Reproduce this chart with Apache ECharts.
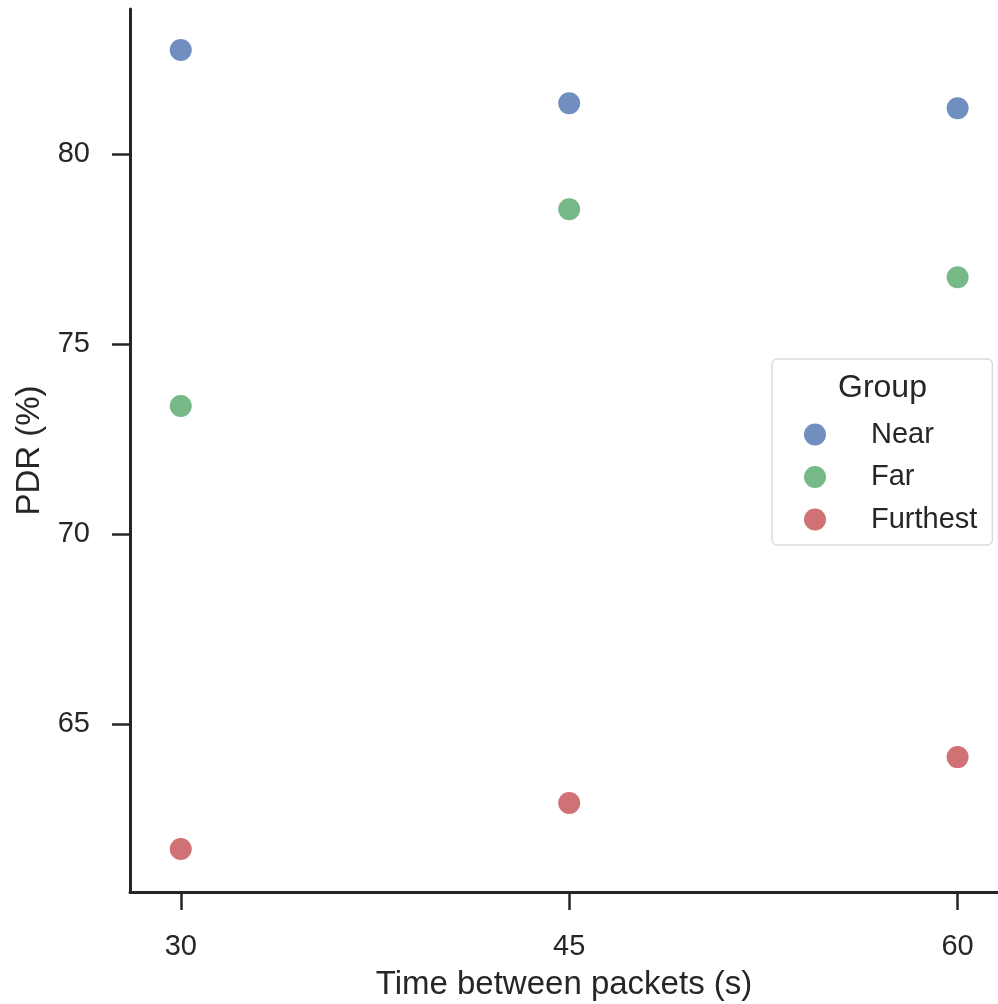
<!DOCTYPE html>
<html>
<head>
<meta charset="utf-8">
<script src="https://cdn.jsdelivr.net/npm/echarts@6/dist/echarts.min.js"></script>
<style>
  html, body { margin: 0; padding: 0; background: #fff; }
  #container { width: 998px; height: 1004px; }
</style>
</head>
<body>
<div id="container"></div>
<script>
// values
var xTicks = [30, 45, 60];
var yTicks = [65, 70, 75, 80];
var groups = ['Near', 'Far', 'Furthest'];
// seaborn deep palette at alpha 0.8 over white
var colors = ['rgb(112,142,192)', 'rgb(119,185,134)', 'rgb(208,113,117)'];

var nearPdr = [82.74, 81.34, 81.21];
var farPdr = [73.37, 78.55, 76.76];
var furthestPdr = [61.71, 62.92, 64.13];
var allPdr = [nearPdr, farPdr, furthestPdr];

var dom = document.getElementById('container');
var myChart = echarts.init(dom);

var textColor = '#262626';
var font = "'Liberation Sans', Arial, sans-serif";

var series = [];
for (var g = 0; g < groups.length; g++) {
  var pts = [];
  for (var i = 0; i < xTicks.length; i++) {
    pts.push([xTicks[i], allPdr[g][i]]);
  }
  series.push({
    name: groups[g],
    type: 'scatter',
    symbol: 'circle',
    symbolSize: 22,
    itemStyle: { color: colors[g], opacity: 1 },
    data: pts
  });
}

var option = {
  backgroundColor: '#fff',
  animation: false,
  grid: { left: 130, right: 0, top: 9, bottom: 112, containLabel: false, outerBoundsMode: 'none' },
  legend: {
    data: groups,
    orient: 'vertical',
    left: 772,
    top: 359,
    padding: [61, 15, 11, 32],
    itemGap: 13.5,
    itemWidth: 22,
    itemHeight: 22,
    icon: 'circle',
    itemStyle: { opacity: 1 },
    borderColor: '#dcdcdc',
    borderWidth: 1.5,
    borderRadius: 5,
    textStyle: { color: textColor, fontSize: 29, fontFamily: font, padding: [0, 0, 0, 40] }
  },
  graphic: [{
    type: 'text',
    left: 838,
    top: 372,
    style: { text: 'Group', fill: textColor, fontSize: 32, fontFamily: font }
  }],
  xAxis: {
    type: 'value',
    min: 28.04,
    max: 61.56,
    name: 'Time between packets (s)',
    nameLocation: 'middle',
    nameGap: 76,
    nameTextStyle: { color: textColor, fontSize: 33, fontFamily: font },
    splitLine: { show: false },
    axisLine: { show: true, lineStyle: { color: textColor, width: 3 } },
    axisTick: { show: true, length: 18, customValues: xTicks, lineStyle: { color: textColor, width: 2.5 } },
    axisLabel: { margin: 40, customValues: xTicks, color: textColor, fontSize: 29, fontFamily: font }
  },
  yAxis: {
    type: 'value',
    min: 60.58,
    max: 83.82,
    name: 'PDR (%)',
    nameLocation: 'middle',
    nameGap: 83,
    nameTextStyle: { color: textColor, fontSize: 33, fontFamily: font },
    splitLine: { show: false },
    axisLine: { show: true, lineStyle: { color: textColor, width: 3 } },
    axisTick: { show: true, length: 18, customValues: yTicks, lineStyle: { color: textColor, width: 2.5 } },
    axisLabel: { margin: 40, customValues: yTicks, color: textColor, fontSize: 29, fontFamily: font }
  },
  series: series
};

if (option && typeof option === 'object') {
  myChart.setOption(option, true);
}
</script>
</body>
</html>
